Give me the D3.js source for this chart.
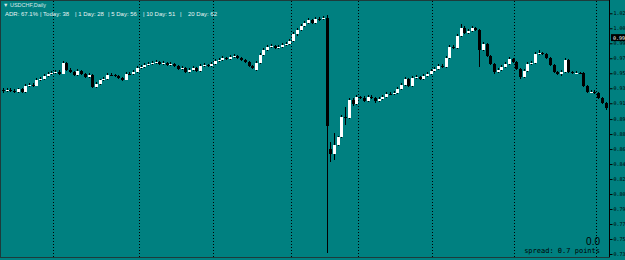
<!DOCTYPE html>
<html>
<head>
<meta charset="utf-8">
<script src="https://cdn.jsdelivr.net/npm/d3@7"></script>
<style>
  body { margin: 0; background: #008080; }
  svg { display: block; }
</style>
</head>
<body>
<svg width="625" height="260"></svg>
<script>
// USDCHF daily bars
const opens = [
  0.9342,0.9330,0.9342,0.9330,0.9318,0.9354,0.9318,0.9390,0.9402,0.9390,
  0.9462,0.9474,0.9510,0.9534,0.9546,0.9558,0.9534,0.9666,0.9582,0.9558,
  0.9522,0.9570,0.9534,0.9498,0.9522,0.9378,0.9414,0.9462,0.9474,0.9522,
  0.9518,0.9510,0.9486,0.9462,0.9534,0.9530,0.9558,0.9606,0.9618,0.9642,
  0.9654,0.9666,0.9678,0.9654,0.9666,0.9642,0.9654,0.9630,0.9594,0.9606,
  0.9558,0.9582,0.9606,0.9570,0.9630,0.9642,0.9630,0.9654,0.9690,0.9702,
  0.9726,0.9714,0.9738,0.9750,0.9726,0.9702,0.9678,0.9630,0.9582,0.9666,
  0.9762,0.9822,0.9858,0.9870,0.9846,0.9858,0.9882,0.9894,0.9930,1.0014,
  1.0062,1.0110,1.0146,1.0182,1.0146,1.0194,1.0190,1.0206,0.8634,0.8574,
  0.8682,0.8778,0.9018,0.9010,0.9222,0.9174,0.9258,0.9246,0.9210,0.9258,
  0.9246,0.9210,0.9234,0.9258,0.9294,0.9290,0.9306,0.9354,0.9402,0.9474,
  0.9390,0.9486,0.9498,0.9474,0.9510,0.9534,0.9570,0.9594,0.9630,0.9618,
  0.9726,0.9858,0.9850,0.9990,1.0086,1.0026,1.0050,1.0086,1.0062,0.9822,
  0.9894,0.9750,0.9654,0.9558,0.9582,0.9618,0.9654,0.9714,0.9678,0.9594,
  0.9498,0.9570,0.9654,0.9666,0.9774,0.9786,0.9774,0.9726,0.9642,0.9558,
  0.9534,0.9558,0.9702,0.9558,0.9546,0.9550,0.9546,0.9390,0.9318,0.9322,
  0.9306,0.9246,0.9186
];
const highs = [
  0.9366,0.9360,0.9362,0.9348,0.9370,0.9366,0.9408,0.9420,0.9426,0.9480,
  0.9498,0.9528,0.9552,0.9570,0.9582,0.9576,0.9690,0.9678,0.9600,0.9570,
  0.9588,0.9582,0.9546,0.9540,0.9534,0.9432,0.9474,0.9492,0.9540,0.9546,
  0.9534,0.9522,0.9498,0.9552,0.9558,0.9576,0.9630,0.9642,0.9666,0.9678,
  0.9690,0.9702,0.9690,0.9684,0.9678,0.9672,0.9666,0.9642,0.9624,0.9618,
  0.9600,0.9624,0.9618,0.9648,0.9660,0.9654,0.9672,0.9708,0.9726,0.9744,
  0.9738,0.9756,0.9774,0.9762,0.9738,0.9714,0.9690,0.9642,0.9684,0.9780,
  0.9840,0.9876,0.9894,0.9882,0.9876,0.9900,0.9912,0.9948,1.0032,1.0080,
  1.0134,1.0164,1.0206,1.0194,1.0218,1.0218,1.0230,1.0240,0.8718,0.8826,
  0.8790,0.9036,0.9138,0.9240,0.9246,0.9276,0.9270,0.9264,0.9276,0.9282,
  0.9258,0.9252,0.9276,0.9312,0.9312,0.9324,0.9372,0.9420,0.9498,0.9486,
  0.9504,0.9516,0.9510,0.9528,0.9552,0.9588,0.9612,0.9648,0.9654,0.9744,
  0.9876,0.9876,1.0008,1.0128,1.0110,1.0074,1.0104,1.0098,1.0074,0.9912,
  0.9906,0.9762,0.9666,0.9600,0.9636,0.9672,0.9732,0.9726,0.9690,0.9606,
  0.9588,0.9672,0.9684,0.9792,0.9822,0.9798,0.9786,0.9738,0.9654,0.9570,
  0.9576,0.9720,0.9714,0.9570,0.9564,0.9562,0.9558,0.9402,0.9336,0.9336,
  0.9318,0.9258,0.9198
];
const lows = [
  0.9310,0.9312,0.9318,0.9300,0.9306,0.9300,0.9310,0.9378,0.9372,0.9384,
  0.9450,0.9462,0.9498,0.9516,0.9528,0.9522,0.9528,0.9570,0.9540,0.9504,
  0.9510,0.9516,0.9480,0.9486,0.9360,0.9366,0.9402,0.9450,0.9462,0.9504,
  0.9492,0.9468,0.9444,0.9456,0.9516,0.9522,0.9546,0.9594,0.9606,0.9630,
  0.9642,0.9654,0.9642,0.9636,0.9624,0.9630,0.9612,0.9582,0.9576,0.9540,
  0.9546,0.9570,0.9552,0.9558,0.9618,0.9612,0.9618,0.9642,0.9678,0.9690,
  0.9696,0.9702,0.9726,0.9708,0.9684,0.9660,0.9612,0.9588,0.9570,0.9654,
  0.9750,0.9810,0.9846,0.9828,0.9834,0.9846,0.9870,0.9882,0.9918,0.9990,
  1.0044,1.0098,1.0134,1.0128,1.0134,1.0170,1.0178,0.7386,0.8478,0.8502,
  0.8670,0.8766,0.8922,0.8998,0.9150,0.9162,0.9234,0.9192,0.9198,0.9234,
  0.9186,0.9198,0.9222,0.9246,0.9276,0.9278,0.9294,0.9342,0.9390,0.9378,
  0.9378,0.9474,0.9462,0.9462,0.9498,0.9522,0.9558,0.9582,0.9606,0.9606,
  0.9714,0.9834,0.9838,0.9978,1.0014,1.0014,1.0038,1.0050,0.9618,0.9810,
  0.9738,0.9642,0.9534,0.9546,0.9570,0.9606,0.9642,0.9666,0.9582,0.9474,
  0.9486,0.9558,0.9642,0.9654,0.9762,0.9762,0.9714,0.9630,0.9546,0.9516,
  0.9510,0.9546,0.9546,0.9534,0.9534,0.9534,0.9378,0.9300,0.9306,0.9294,
  0.9234,0.9174,0.9102
];
const closes = [
  0.9330,0.9342,0.9330,0.9318,0.9354,0.9318,0.9390,0.9402,0.9390,0.9462,
  0.9474,0.9510,0.9534,0.9546,0.9558,0.9534,0.9666,0.9582,0.9558,0.9522,
  0.9570,0.9534,0.9498,0.9522,0.9378,0.9414,0.9462,0.9474,0.9522,0.9518,
  0.9510,0.9486,0.9462,0.9534,0.9530,0.9558,0.9606,0.9618,0.9642,0.9654,
  0.9666,0.9678,0.9654,0.9666,0.9642,0.9654,0.9630,0.9594,0.9606,0.9558,
  0.9582,0.9606,0.9570,0.9630,0.9642,0.9630,0.9654,0.9690,0.9702,0.9726,
  0.9714,0.9738,0.9750,0.9726,0.9702,0.9678,0.9630,0.9606,0.9666,0.9762,
  0.9822,0.9858,0.9870,0.9846,0.9858,0.9882,0.9894,0.9930,1.0014,1.0062,
  1.0110,1.0146,1.0182,1.0146,1.0194,1.0190,1.0206,0.8910,0.8574,0.8682,
  0.8778,0.9018,0.9010,0.9222,0.9174,0.9258,0.9246,0.9210,0.9258,0.9246,
  0.9210,0.9234,0.9258,0.9294,0.9290,0.9306,0.9354,0.9402,0.9474,0.9390,
  0.9486,0.9498,0.9474,0.9510,0.9534,0.9570,0.9594,0.9630,0.9618,0.9726,
  0.9858,0.9850,0.9990,1.0086,1.0026,1.0050,1.0086,1.0062,0.9822,0.9894,
  0.9750,0.9654,0.9558,0.9582,0.9618,0.9654,0.9714,0.9678,0.9594,0.9498,
  0.9570,0.9654,0.9666,0.9774,0.9786,0.9774,0.9726,0.9642,0.9558,0.9534,
  0.9558,0.9702,0.9558,0.9546,0.9550,0.9546,0.9390,0.9318,0.9322,0.9306,
  0.9246,0.9186,0.9126
];
// first bar of each month (period separators)
const monthStarts = [14, 37, 57, 78, 96, 116, 138, 160];
const priceTicks = [1.0262, 1.0082, 0.9902, 0.9722, 0.9542, 0.9362, 0.9182, 0.8992,
  0.8812, 0.8632, 0.8452, 0.8272, 0.8092, 0.7912, 0.7732, 0.7552, 0.7372];
const markPrice = 0.9970;
const adrText = ["ADR: 67.1%", "| Today: 38", "| 1 Day: 28", "| 5 Day: 56", "| 10 Day: 51", "|", "20 Day: 62"];

const svg = d3.select('svg');
const width = +svg.attr('width');
const height = +svg.attr('height');
const plotRight = 609;
const plotBottom = 257;

const bars = closes.map((c, i) => ({ i, o: opens[i], h: highs[i], l: lows[i], c }));

const x = d3.scaleLinear().domain([0, bars.length - 1]).range([3, 605.6]);
const y = d3.scaleLinear().domain([0.7372, 1.0262]).range([254, 13.3]);

svg.append('rect')
    .attr('width', width)
    .attr('height', height)
    .attr('fill', '#008080');

// frame
svg.append('rect')
    .attr('x', 0.5).attr('y', 0.5)
    .attr('width', plotRight).attr('height', plotBottom)
    .attr('fill', 'none')
    .attr('stroke', '#1d3b3b');

// month separators
svg.append('g')
    .selectAll('line')
    .data(monthStarts)
    .join('line')
    .attr('x1', d => Math.round(x(d)) - 1.5)
    .attr('x2', d => Math.round(x(d)) - 1.5)
    .attr('y1', 1).attr('y2', plotBottom)
    .attr('stroke', '#000')
    .attr('stroke-dasharray', '1,2');

const candles = svg.append('g')
    .attr('shape-rendering', 'crispEdges');

candles.selectAll('line')
    .data(bars)
    .join('line')
    .attr('x1', d => Math.round(x(d.i)) + 0.5)
    .attr('x2', d => Math.round(x(d.i)) + 0.5)
    .attr('y1', d => y(d.h))
    .attr('y2', d => y(d.l))
    .attr('stroke', '#000');

candles.selectAll('rect')
    .data(bars)
    .join('rect')
    .attr('x', d => Math.round(x(d.i)) - 1)
    .attr('width', 3)
    .attr('y', d => y(Math.max(d.o, d.c)))
    .attr('height', d => Math.max(1, Math.abs(y(d.o) - y(d.c))))
    .attr('fill', d => d.c >= d.o ? '#fff' : '#000');

// price axis
const axis = svg.append('g')
    .attr('transform', `translate(${plotRight + 0.5},0)`)
    .call(d3.axisRight(y).tickValues(priceTicks).tickSize(3).tickFormat(d3.format('.4f')));
axis.select('.domain').attr('stroke', '#000').attr('d', `M0,0V${plotBottom}`);
axis.selectAll('.tick line').attr('stroke', '#000');
axis.selectAll('.tick text')
    .attr('x', 4)
    .attr('fill', '#000')
    .attr('font-family', 'DejaVu Sans Mono, monospace')
    .attr('font-size', 5);

const mark = svg.append('g').attr('transform', `translate(${plotRight + 2},${y(markPrice)})`);
mark.append('rect').attr('x', 0).attr('y', -3.5).attr('width', 16).attr('height', 7).attr('fill', '#000');
mark.append('text').attr('x', 2).attr('y', 2)
    .attr('fill', '#fff')
    .attr('font-family', 'DejaVu Sans Mono, monospace')
    .attr('font-size', 5)
    .text(d3.format('.4f')(markPrice));

// header texts
svg.append('text')
    .attr('x', 3).attr('y', 7)
    .attr('fill', '#d8e8e8')
    .attr('font-family', 'Liberation Sans, Arial, sans-serif')
    .attr('font-size', 5.5)
    .text('▼ USDCHF,Daily');

const adrX = [5, 40, 75, 108, 143, 180, 188];
svg.append('g')
    .selectAll('text')
    .data(adrText)
    .join('text')
    .attr('x', (d, i) => adrX[i])
    .attr('y', 16)
    .attr('fill', '#e8f4f4')
    .attr('font-family', 'Liberation Sans, Arial, sans-serif')
    .attr('font-size', 6)
    .text(d => d);

svg.append('text')
    .attr('x', 600).attr('y', 245)
    .attr('text-anchor', 'end')
    .attr('fill', '#000')
    .attr('font-family', 'Liberation Sans, Arial, sans-serif')
    .attr('font-size', 10)
    .text('0.0');

svg.append('text')
    .attr('x', 600).attr('y', 253)
    .attr('text-anchor', 'end')
    .attr('fill', '#000')
    .attr('font-family', 'DejaVu Sans Mono, monospace')
    .attr('font-size', 7)
    .text('spread: 0.7 points');
</script>
</body>
</html>
